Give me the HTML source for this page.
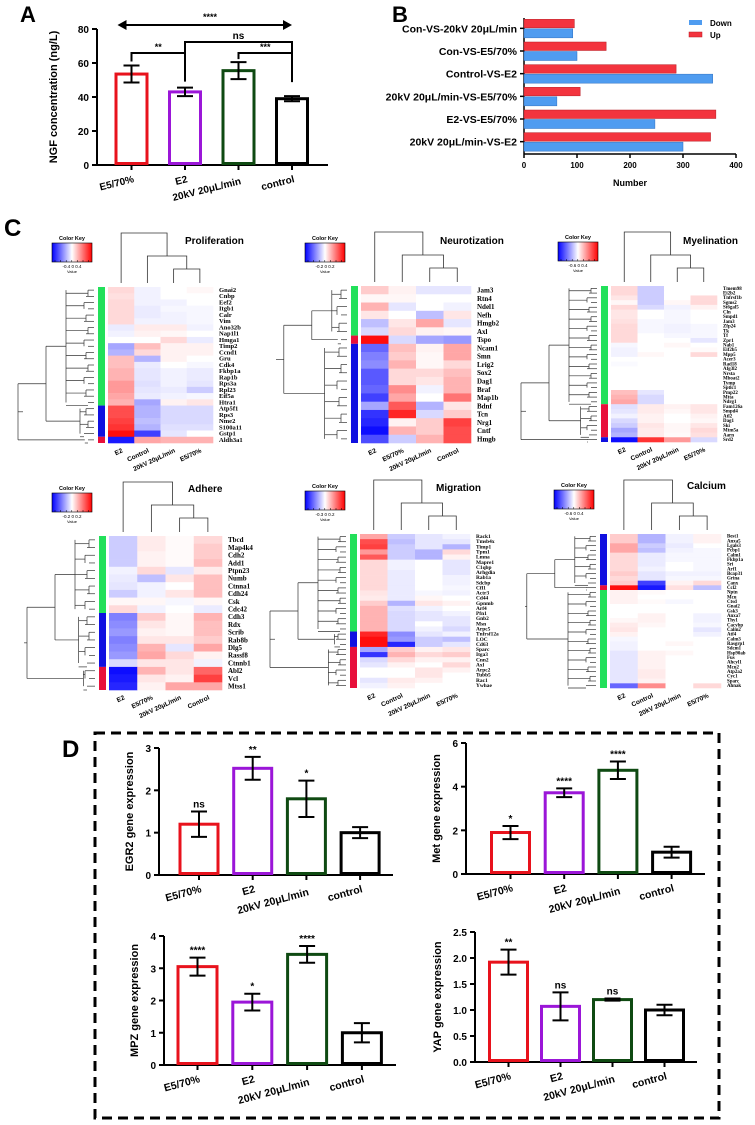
<!DOCTYPE html>
<html><head><meta charset="utf-8"><style>
html,body{margin:0;padding:0;background:#fff;}
svg{display:block;font-family:"Liberation Sans",Arial,sans-serif;}
</style></head><body>
<svg id="fig" xmlns="http://www.w3.org/2000/svg" width="755" height="1125" viewBox="0 0 755 1125">
<text x="20" y="22" font-size="22" font-weight="bold">A</text>
<text x="392" y="22" font-size="22" font-weight="bold">B</text>
<text x="4" y="236" font-size="24" font-weight="bold">C</text>
<text x="62" y="757" font-size="24" font-weight="bold">D</text>
<rect x="95" y="733" width="624" height="385" fill="none" stroke="#000" stroke-width="3" stroke-dasharray="10,6"/>
</svg>
<script>
// ---------- Panel A data ----------
const aCategories = ["E5/70%", "E2", "20kV 20μL/min", "control"];
const aValues = [53.5, 43, 55.5, 39];
const aErrors = [5, 2.5, 5, 1.5];
const aTicks = [0, 20, 40, 60, 80];
// ---------- Panel B data ----------
const bCategories = ["Con-VS-20kV 20μL/min", "Con-VS-E5/70%", "Control-VS-E2", "20kV 20μL/min-VS-E5/70%", "E2-VS-E5/70%", "20kV 20μL/min-VS-E2"];
const bUp = [95, 155, 287, 106, 362, 352];
const bDown = [92, 100, 356, 62, 247, 300];
const bTicks = [0, 100, 200, 300, 400];
// ---------- Panel D data ----------
const dCategories = ["E5/70%", "E2", "20kV 20μL/min", "control"];
const egr2Values = [1.2, 2.52, 1.8, 1.0];
const egr2Errors = [0.3, 0.27, 0.43, 0.13];
const egr2Sig = ["ns", "**", "*", ""];
const egr2Ticks = [0, 1, 2, 3];
const metValues = [1.9, 3.72, 4.75, 1.0];
const metErrors = [0.3, 0.2, 0.4, 0.25];
const metSig = ["*", "****", "****", ""];
const metTicks = [0, 2, 4, 6];
const mpzValues = [3.05, 1.95, 3.43, 1.0];
const mpzErrors = [0.28, 0.26, 0.26, 0.3];
const mpzSig = ["****", "*", "****", ""];
const mpzTicks = [0, 1, 2, 3, 4];
const yapValues = [1.92, 1.07, 1.2, 1.0];
const yapErrors = [0.24, 0.27, 0.02, 0.1];
const yapSig = ["**", "ns", "ns", ""];
const yapTicks = [0, 0.5, 1.0, 1.5, 2.0, 2.5];
// ---------- Panel C heatmap data ----------
const prolGenes = ["Gnai2","Cnbp","Eef2","Itgb1","Calr","Vim","Ano32b","Nap1l1","Hmga1","Timp2","Ccnd1","Gru","Cdk4","Fkbp1a","Rap1b","Rps3a","Rpl23","Eif5a","Htra1","Atp5f1","Rps3","Nme2","S100a11","Gstp1","Aldh3a1"];
const prolCols = ["E2","Control","20kV 20μL/min","E5/70%"];
const prolValues = [[.15,-.05,0,.03],[.12,-.05,0,0],[.15,-.05,-.05,0],[.15,-.08,-.03,-.03],[.15,-.08,-.05,-.03],[.15,-.05,-.05,-.03],[-.08,.08,.08,-.05],[-.05,.05,.03,0],[0,0,.15,-.08],[-.35,.25,.05,.05],[-.3,.15,.05,.05],[.25,-.3,.05,0],[.25,-.08,0,-.03],[.3,-.1,-.05,-.08],[.3,-.1,-.05,-.08],[.4,-.12,-.05,-.1],[.4,-.1,-.08,-.2],[.35,-.08,-.05,-.03],[.3,-.35,.05,.1],[.7,-.3,-.15,-.15],[.7,-.3,-.15,-.15],[.75,-.25,-.15,-.15],[.8,-.3,-.12,-.12],[.95,-.75,-.1,0],[-.9,.35,.3,.3]];
const prolGroups = [19, 5, 1];
const prolGroupColors = ["#22e05a","#1010e0","#e8103a"];
const neurGenes = ["Jam3","Rtn4","Ndel1","Nefh","Hmgb2","Axl","Tspo","Ncam1","Smn","Lrig2","Sox2","Dag1","Braf","Map1b","Bdnf","Tcn","Nrg1","Cntf","Hmgb"];
const neurCols = ["E2","E5/70%","20kV 20μL/min","Control"];
const neurValues = [[.2,.05,-.1,-.1],[.03,.03,0,0],[.3,-.1,0,-.05],[.1,0,-.25,.1],[-.25,.1,.35,-.1],[-.15,.15,.05,.03],[.95,-.15,-.35,-.4],[-.6,.25,.05,.35],[-.5,.2,.03,.35],[-.45,.3,.03,.15],[-.65,.15,.15,.25],[-.65,.15,.1,.3],[-.6,.45,-.05,.3],[-.75,.35,0,.55],[-.35,.65,-.3,.1],[-.8,.85,-.15,.2],[-.85,.05,.2,.75],[-.95,.3,.2,.7],[-.7,-.2,.3,.7]];
const neurGroups = [6, 1, 12];
const neurGroupColors = ["#22e05a","#e8103a","#1010e0"];
const myelGenes = ["Tmem98","Ei2b2","Tnfrsf1b","Sgms2","St6gal5","Cln","Smpd1","Jam3","Zfp24","Tk","Tf","Zpr1","Nab1","Eif2b5","Mpp5","Acer3","Rad18","Afg3l2","Nrsta","Mboat2","Tymp","Sptlc1","Pmp22","Mtta","Ndrg1","Fam126a","Smpd4","Atl2","Dag1","Ski","Mtm5a","Aarn","Srd2"];
const myelCols = ["E2","Control","20kV 20μL/min","E5/70%"];
const myelValues = [[.15,-.2,0,0],[.15,-.2,0,0],[.1,-.2,0,.15],[.03,-.2,.03,.15],[.15,-.15,-.05,.05],[.1,0,-.03,0],[.1,0,-.03,0],[.12,-.03,-.03,0],[.15,-.03,-.05,-.03],[.15,-.03,-.05,-.03],[.15,0,-.03,-.03],[.15,0,0,-.1],[-.03,0,.03,0],[-.05,0,0,.02],[-.05,.03,0,.15],[0,0,0,0],[-.02,0,0,0],[0,0,0,0],[0,0,0,0],[0,0,0,0],[0,0,0,0],[0,0,0,0],[.25,-.1,0,0],[.3,-.15,0,0],[.35,-.15,0,0],[-.12,.08,.05,.1],[-.1,.08,.03,.1],[-.05,.05,0,.05],[-.15,.05,0,.03],[-.2,.1,.03,.1],[-.35,.08,.03,.15],[-.3,.08,.02,.12],[-.95,.8,.4,-.15]];
const myelGroups = [25, 7, 1];
const myelGroupColors = ["#22e05a","#e8103a","#1010e0"];
const adhGenes = ["Tbcd","Map4k4","Cdh2","Add1","Ptpn23","Numb","Ctnna1","Cdh24","Csk","Cdc42","Cdh3","Rdx","Scrib","Rab8b","Dlg5","Rassf8","Ctnnb1","Abl2","Vcl","Mtss1"];
const adhCols = ["E2","E5/70%","20kV 20μL/min","Control"];
const adhValues = [[-.2,.08,.02,.15],[-.2,.08,.02,.2],[-.2,.05,.02,.2],[-.2,.05,.02,.25],[-.05,.15,-.1,.08],[-.08,-.25,.1,.25],[-.1,-.05,0,.25],[-.2,-.05,.1,.25],[.03,.03,-.03,.03],[.15,-.05,0,-.08],[-.5,.2,.03,.3],[-.45,.1,.03,.25],[-.4,.05,.03,.25],[-.5,.1,.1,.2],[-.45,.3,-.1,.35],[-.4,.35,.15,.05],[-.15,.1,.1,-.05],[-.95,.3,.1,.6],[-.9,.1,.05,.75],[-.85,.05,.35,.35]];
const adhGroups = [10, 7, 3];
const adhGroupColors = ["#22e05a","#1010e0","#e8103a"];
const migGenes = ["Rack1","Tmsb4x","Timp1","Tpm1","Lmna","Mapre1","C1qbp","Arhgdia","Rab1a","Sdcbp","Cfl1","Actr3","Cd44","Gpnmb","Arf4","Pfn1","Gnb2","Msn","Arpc5","Tnfrsf12a","LOC","Cd63","Sparc","Itga3","Cnn2","Axl","Arpc2","Tubb5","Rac1","Ywhae"];
const migCols = ["E2","Control","20kV 20μL/min","E5/70%"];
const migValues = [[.35,-.2,-.1,-.05],[.7,-.25,-.1,-.1],[.75,-.2,-.1,-.3],[.4,-.2,-.3,.15],[.65,-.2,-.3,.05],[.15,-.05,0,-.1],[.15,-.05,0,-.1],[.15,-.08,0,-.1],[.15,-.08,0,-.05],[.15,-.08,0,-.05],[.15,-.08,0,-.03],[.1,-.08,-.03,-.05],[.08,-.08,.03,0],[.2,-.3,.1,.05],[.3,-.12,-.05,0],[.3,-.15,-.1,-.05],[.3,-.15,-.1,-.1],[.3,-.15,0,-.1],[.3,-.15,-.05,-.15],[.85,-.45,-.1,-.05],[.95,-.4,-.2,-.25],[.95,-.85,-.2,-.1],[-.35,.2,.05,.1],[-.8,.3,.15,.2],[-.15,.15,.05,.05],[-.1,.05,0,.15],[0,0,.1,.05],[0,0,.1,0],[-.1,.08,.05,0],[-.05,.05,0,0]];
const migGroups = [19, 3, 8];
const migGroupColors = ["#22e05a","#1010e0","#e8103a"];
const calGenes = ["Best1","Anxa5","Lgals3","Pcbp1","Calm1","Fkbp1a","Sri","Arf1","Bcap31","Grina","Canx","Ccl2","Nptn","Mcu","Ctsd","Gnai2","Gsk3","Anxa7","Thy1","Cacybp","Calm2","Atf4","Calm3","Rasgrp1","Sdcm1","Hsp90ab","Fus","Ahcyl1","Mcu2","Atp2a2","Cyc1","Sparc","Ahnak"];
const calCols = ["E2","Control","20kV 20μL/min","E5/70%"];
const calValues = [[.2,-.3,-.05,.05],[.2,-.3,-.05,.05],[.35,-.2,-.08,0],[.35,-.25,-.05,-.03],[.15,-.08,-.03,-.03],[.15,-.08,-.03,-.03],[.15,-.08,0,-.03],[.15,-.05,0,-.03],[.2,-.1,-.05,-.05],[.15,-.1,-.03,-.03],[.2,-.75,.05,.15],[.95,-.9,.12,-.25],[.05,.02,0,0],[.05,0,0,0],[.05,.02,-.03,0],[0,0,0,0],[0,0,0,0],[0,.05,0,-.05],[.03,.05,0,-.05],[.08,.03,0,-.03],[.1,0,0,-.1],[.05,0,0,-.05],[-.03,0,0,0],[-.05,0,.03,0],[-.05,0,0,0],[-.1,.05,.03,0],[-.1,.05,0,0],[-.1,.05,0,0],[-.1,.05,0,0],[-.1,.08,0,0],[-.1,.08,0,0],[-.1,.05,0,0],[-.6,.45,0,.15]];
const calGroups = [11, 1, 21];
const calGroupColors = ["#1010e0","#e8103a","#22e05a"];

const NS = "http://www.w3.org/2000/svg";
const svg = document.getElementById("fig");
function mk(tag, attrs, parent, text) {
  const e = document.createElementNS(NS, tag);
  for (const k in attrs) e.setAttribute(k, attrs[k]);
  if (text !== undefined) e.textContent = text;
  (parent || svg).appendChild(e);
  return e;
}
function line(x1,y1,x2,y2,w,parent,col){return mk("line",{x1,y1,x2,y2,stroke:col||"#000","stroke-width":w||1},parent);}

// ---------- Vertical bar chart (panels A and D) ----------
function barChart(o) {
  const g = mk("g", {});
  
  
  const yS = v => o.y0 - (v / o.ymax) * (o.y0 - o.yTop);
  const xC = i => o.x0 + o.offset + i * o.step;
  line(o.x0, o.y0, o.x0, yS(o.ymax), 2, g);
  line(o.x0, o.y0, o.xEnd, o.y0, 2, g);
  o.ticks.forEach(t => {
    line(o.x0 - 5, yS(t), o.x0, yS(t), 2, g);
    const tl = mk("text", {x: o.x0 - 8, y: yS(t) + 4, "text-anchor": "end", "font-size": o.tickFs, "font-weight": "bold"}, g, o.tickFmt ? t.toFixed(1) : t);
    
    
  });
  const colors = ["#e8121c", "#9b16d8", "#0f4a12", "#000"];
  o.values.forEach((v, i) => {
    const cx = xC(i);
    line(cx, o.y0, cx, o.y0 + 5, 2, g);
    const r = mk("rect", {x: cx - o.bw / 2, y: yS(v), width: o.bw, height: o.y0 - yS(v) - 1.5, fill: "#fff", stroke: colors[i], "stroke-width": 3}, g);
    
    
    const e = o.errors[i];
    const top = yS(v + e), bot = yS(v - e);
    const eb = mk("path", {d: `M${cx},${top}V${bot}M${cx-8},${top}H${cx+8}M${cx-8},${bot}H${cx+8}`, stroke: "#000", "stroke-width": 2, fill: "none"}, g);
    
    
    if (o.sig && o.sig[i]) {
      const s = mk("text", {x: cx, y: top - 4, "text-anchor": "middle", "font-size": 10, "font-weight": "bold"}, g, o.sig[i]);
      
      
    }
    const lx = cx + 3, ly = o.y0 + 17 + (i === 2 ? o.lblDrop : 0);
    const lb = mk("text", {x: lx, y: ly, "text-anchor": "end", "font-size": o.lblFs, "font-weight": "bold", transform: `rotate(${o.rot} ${lx} ${ly})`}, g, o.cats[i]);
    
    
  });
  const my = (o.y0 + yS(o.ymax)) / 2, mx = o.x0 - o.titleOff;
  const tt = mk("text", {x: mx, y: my, "text-anchor": "middle", "font-size": o.titleFs, "font-weight": "bold", transform: `rotate(-90 ${mx} ${my})`}, g, o.title);
  
  
  return {g, yS, xC};
}

// Panel A
const A = barChart({name: "panel-a-ngf-chart", x0: 97, y0: 165, yTop: 29, ymax: 80, xEnd: 328, offset: 34.5, step: 53.5, bw: 31,
  values: aValues, errors: aErrors, cats: aCategories, ticks: aTicks, tickFs: 10, lblFs: 10, lblDrop: 2, rot: -14,
  title: "NGF concentration (ng/L)", titleOff: 40, titleFs: 11});
(function(){
  const g = A.g, yS = A.yS, xC = A.xC;
  const br = (i, j, yi, yj, ytop, lab) => {
    mk("path", {d: `M${xC(i)},${yi}V${ytop}H${xC(j)}V${yj}`, fill: "none", stroke: "#000", "stroke-width": 2}, g);
    mk("text", {x: (xC(i) + xC(j)) / 2, y: ytop - 3, "text-anchor": "middle", "font-size": lab === "ns" ? 10 : 9, "font-weight": "bold"}, g, lab);
  };
  br(0, 1, yS(aValues[0] + aErrors[0]) - 4, yS(aValues[1] + aErrors[1]) - 6, 53, "**");
  br(1, 3, yS(aValues[1] + aErrors[1]) - 10, yS(aValues[3] + aErrors[3]) - 32, 42, "ns");
  br(2, 3, yS(aValues[2] + aErrors[2]) - 3, yS(aValues[3] + aErrors[3]) - 14, 53, "***");
  mk("path", {d: `M${xC(0)-12},25H${xC(3)-2}`, stroke: "#000", "stroke-width": 2}, g);
  mk("path", {d: `M${xC(0)-14},25l9,-5v10z M${xC(3)},25l-9,-5v10z`, fill: "#000"}, g);
  mk("text", {x: 210, y: 20, "text-anchor": "middle", "font-size": 9, "font-weight": "bold"}, g, "****");
})();

// Panel B
(function(){
  const g = mk("g", {});
  
  
  const x0 = 524, x1 = 736, yT = 18, yB = 154;
  const xS = v => x0 + v / 400 * (x1 - x0);
  const band = (yB - yT) / bCategories.length;
  line(x0, yT, x0, yB, 1.5, g);
  line(x0, yB, x1, yB, 1.5, g);
  bTicks.forEach(t => {
    line(xS(t), yB, xS(t), yB + 4, 1.5, g);
    const tl = mk("text", {x: xS(t), y: yB + 14, "text-anchor": "middle", "font-size": 8, "font-weight": "bold"}, g, t);
    
    
  });
  bCategories.forEach((c, i) => {
    const cy = yT + band * (i + 0.5) - 1;
    line(x0 - 4, cy, x0, cy, 1.5, g);
    const up = mk("rect", {x: x0, y: cy - 9, width: xS(bUp[i]) - x0, height: 8.5, fill: "#f3343e", stroke: "#b81a22", "stroke-width": 0.5}, g);
    
    
    const dn = mk("rect", {x: x0, y: cy + 0.5, width: xS(bDown[i]) - x0, height: 9, fill: "#4f9cf0", stroke: "#2d6fc0", "stroke-width": 0.5}, g);
    
    
    const tl = mk("text", {x: x0 - 7, y: cy + 4, "text-anchor": "end", "font-size": 10.5, "font-weight": "bold"}, g, c);
    
    
  });
  const t = mk("text", {x: 630, y: 186, "text-anchor": "middle", "font-size": 9, "font-weight": "bold"}, g, "Number");
  
  
  const l1 = mk("rect", {x: 689, y: 20, width: 13, height: 5, fill: "#4f9cf0"}, g);
  
  
  mk("text", {x: 710, y: 26, "font-size": 8, "font-weight": "bold"}, g, "Down");
  const l2 = mk("rect", {x: 689, y: 32, width: 13, height: 5, fill: "#f3343e", stroke: "#b81a22", "stroke-width": 0.5}, g);
  
  
  mk("text", {x: 710, y: 38, "font-size": 8, "font-weight": "bold"}, g, "Up");
})();

// ---------- Heatmaps ----------
function heatColor(v) {
  v = Math.max(-1, Math.min(1, v));
  const a = Math.abs(v);
  const w = Math.round(255 * (1 - a));
  return v >= 0 ? `rgb(255,${w},${w})` : `rgb(${w},${w},255)`;
}
function heatmap(o) {
  const g = mk("g", {});
  
  
  const n = o.genes.length, rh = (o.y1 - o.y0) / n, cw = (o.x1 - o.x0) / 4;
  o.values.forEach((row, r) => row.forEach((v, c) => {
    const cell = mk("rect", {x: o.x0 + c * cw, y: o.y0 + r * rh, width: cw + 0.3, height: rh + 0.3, fill: heatColor(v)}, g);
    
    
  }));
  const fs = Math.min(7, rh * 1.05);
  o.genes.forEach((gname, r) => {
    const t = mk("text", {x: o.x1 + 6, y: o.y0 + r * rh + rh * 0.8, "font-size": fs, "font-weight": "bold", "font-family": "Liberation Serif, serif"}, g, gname);
    
    
  });
  let acc = 0;
  const sideMid = [];
  o.groups.forEach((cnt, k) => {
    const sb = mk("rect", {x: o.x0 - 10, y: o.y0 + acc * rh, width: 7, height: cnt * rh, fill: o.groupColors[k]}, g);
    
    
    sideMid.push([acc, cnt]);
    acc += cnt;
  });
  const dx = o.x0 - 14;
  const gl = "#333";
  const tops = [];
  sideMid.forEach(([s, cnt], k) => {
    const xa = dx - 8 - Math.min(20, cnt * 1.2);
    for (let r = s; r < s + cnt; r++) {
      const yy = o.y0 + (r + 0.5) * rh;
      line(dx - 6 - (r % 3) * 2, yy, dx, yy, 0.7, g, gl);
    }
    const ya = o.y0 + (s + 0.5) * rh, yb = o.y0 + (s + cnt - 0.5) * rh;
    for (let r = s; r < s + cnt; r += 2) {
      const y1 = o.y0 + (r + 0.5) * rh, y2 = o.y0 + (Math.min(r + 1, s + cnt - 1) + 0.5) * rh;
      line(dx - 6 - (r % 3) * 2, y1, dx - 6 - (r % 3) * 2, y2, 0.7, g, gl);
    }
    line(xa, ya, xa, yb, 0.7, g, gl);
    for (let r = s; r < s + cnt; r += 2) line(xa, o.y0 + (r + 1) * rh, dx - 6 - (r % 3) * 2, o.y0 + (r + 1) * rh, 0.7, g, gl);
    tops.push([xa, (ya + yb) / 2]);
  });
  let cur = tops[0];
  for (let k = 1; k < tops.length; k++) {
    const xn = Math.min(cur[0], tops[k][0]) - 12 - k * 8;
    line(xn, cur[1], xn, tops[k][1], 0.7, g, gl);
    line(xn, cur[1], cur[0], cur[1], 0.7, g, gl);
    line(xn, tops[k][1], tops[k][0], tops[k][1], 0.7, g, gl);
    cur = [xn, (cur[1] + tops[k][1]) / 2];
  }
  line(o.x0 - 85, cur[1], cur[0], cur[1], 0.7, g, gl);
  const cx = c => o.x0 + (c + 0.5) * cw;
  const yb = o.y0 - 4;
  mk("path", {d: `M${cx(2)},${yb}V${yb-14}H${cx(3)}V${yb}`, fill: "none", stroke: gl, "stroke-width": 0.8}, g);
  const m23 = (cx(2) + cx(3)) / 2;
  mk("path", {d: `M${cx(1)},${yb}V${yb-27}H${m23}V${yb-14}`, fill: "none", stroke: gl, "stroke-width": 0.8}, g);
  const m123 = (cx(1) + m23) / 2;
  mk("path", {d: `M${cx(0)},${yb}V${yb-50}H${m123}V${yb-27}`, fill: "none", stroke: gl, "stroke-width": 0.8}, g);
  o.cols.forEach((c, i) => {
    const lx = cx(i) + 2, ly = o.y1 + 9;
    const t = mk("text", {x: lx, y: ly, "text-anchor": "end", "font-size": 6.5, "font-weight": "bold", transform: `rotate(-25 ${lx} ${ly})`}, g, c);
    
    
  });
  const tt = mk("text", {x: o.tx, y: o.ty, "font-size": 10, "font-weight": "bold"}, g, o.title);
  
  
  const kg = mk("g", {}, g);
  
  
  const gid = "grad" + o.name;
  const defs = mk("defs", {}, kg);
  const lg = mk("linearGradient", {id: gid, x1: 0, x2: 1, y1: 0, y2: 0}, defs);
  mk("stop", {offset: "0", "stop-color": "#0000ff"}, lg);
  mk("stop", {offset: "0.5", "stop-color": "#ffffff"}, lg);
  mk("stop", {offset: "1", "stop-color": "#ff0000"}, lg);
  mk("text", {x: o.kx + 20, y: o.ky - 3, "text-anchor": "middle", "font-size": 5.5, "font-weight": "bold"}, kg, "Color Key");
  mk("rect", {x: o.kx, y: o.ky, width: 40, height: 19, fill: `url(#${gid})`, stroke: "#000", "stroke-width": 0.6}, kg);
  for (let i = 0; i < 7; i++) line(o.kx + 3 + i * 5.6, o.ky + 17, o.kx + 3 + i * 5.6, o.ky + 19, 0.5, kg);
  mk("text", {x: o.kx + 20, y: o.ky + 25, "text-anchor": "middle", "font-size": 4.5}, kg, o.keyTicks);
  mk("text", {x: o.kx + 20, y: o.ky + 30, "text-anchor": "middle", "font-size": 4}, kg, "Value");
}
heatmap({name: "heatmap-proliferation", genes: prolGenes, cols: prolCols, values: prolValues, groups: prolGroups, groupColors: prolGroupColors, x0: 108, x1: 213, y0: 287, y1: 443, title: "Proliferation", tx: 185, ty: 244, kx: 52, ky: 243, keyTicks: "-0.4   0   0.4"});
heatmap({name: "heatmap-neurotization", genes: neurGenes, cols: neurCols, values: neurValues, groups: neurGroups, groupColors: neurGroupColors, x0: 361, x1: 471, y0: 286, y1: 443, title: "Neurotization", tx: 440, ty: 244, kx: 305, ky: 243, keyTicks: "-0.2  0  0.2"});
heatmap({name: "heatmap-myelination", genes: myelGenes, cols: myelCols, values: myelValues, groups: myelGroups, groupColors: myelGroupColors, x0: 611, x1: 717, y0: 286, y1: 442, title: "Myelination", tx: 683, ty: 244, kx: 558, ky: 242, keyTicks: "-0.6   0  0.4"});
heatmap({name: "heatmap-adhere", genes: adhGenes, cols: adhCols, values: adhValues, groups: adhGroups, groupColors: adhGroupColors, x0: 109, x1: 222, y0: 536, y1: 690, title: "Adhere", tx: 188, ty: 492, kx: 52, ky: 493, keyTicks: "-0.2  0  0.2"});
heatmap({name: "heatmap-migration", genes: migGenes, cols: migCols, values: migValues, groups: migGroups, groupColors: migGroupColors, x0: 360, x1: 470, y0: 534, y1: 688, title: "Migration", tx: 436, ty: 491, kx: 305, ky: 491, keyTicks: "-0.3   0  0.2"});
heatmap({name: "heatmap-calcium", genes: calGenes, cols: calCols, values: calValues, groups: calGroups, groupColors: calGroupColors, x0: 610, x1: 721, y0: 534, y1: 688, title: "Calcium", tx: 687, ty: 489, kx: 554, ky: 490, keyTicks: "-0.6   0  0.4"});

// Panel D
barChart({name: "egr2-chart", x0: 159, y0: 875, yTop: 748, ymax: 3, xEnd: 393, offset: 40, step: 53.7, bw: 38,
  values: egr2Values, errors: egr2Errors, sig: egr2Sig, cats: dCategories, ticks: egr2Ticks, tickFs: 10, lblFs: 10.5, lblDrop: 3, rot: -15,
  title: "EGR2 gene expression", titleOff: 26, titleFs: 11});
barChart({name: "met-chart", x0: 466, y0: 874, yTop: 743, ymax: 6, xEnd: 705, offset: 44.5, step: 53.7, bw: 38,
  values: metValues, errors: metErrors, sig: metSig, cats: dCategories, ticks: metTicks, tickFs: 10, lblFs: 10.5, lblDrop: 3, rot: -15,
  title: "Met gene expression", titleOff: 26, titleFs: 11});
barChart({name: "mpz-chart", x0: 164, y0: 1065, yTop: 936, ymax: 4, xEnd: 396, offset: 33.5, step: 54.8, bw: 39,
  values: mpzValues, errors: mpzErrors, sig: mpzSig, cats: dCategories, ticks: mpzTicks, tickFs: 10, lblFs: 10.5, lblDrop: 3, rot: -15,
  title: "MPZ gene expression", titleOff: 26, titleFs: 11});
barChart({name: "yap-chart", x0: 475, y0: 1062, yTop: 932, ymax: 2.5, xEnd: 697, offset: 33.5, step: 52, bw: 38,
  values: yapValues, errors: yapErrors, sig: yapSig, cats: dCategories, ticks: yapTicks, tickFs: 10, tickFmt: true, lblFs: 10.5, lblDrop: 3, rot: -15,
  title: "YAP gene expression", titleOff: 34, titleFs: 11});
</script>
</body></html>
